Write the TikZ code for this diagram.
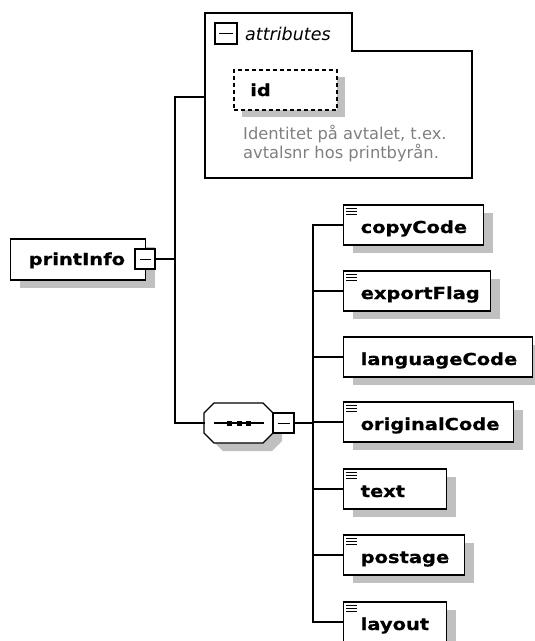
\documentclass[tikz,border=0pt]{standalone}
\usepackage{fontspec}
\usetikzlibrary{shadows,calc}
\newfontfamily\elfont{DejaVu Sans}[FakeStretch=1.18, FakeBold=0.6]
\newfontfamily\plainfont{DejaVu Sans}
\definecolor{shadowgray}{RGB}{192,192,192}
\definecolor{desctext}{RGB}{128,128,128}
\tikzset{
  wire/.style={line width=1.4pt, line cap=rect},
  shadowed/.style={drop shadow={shadow xshift=9pt, shadow yshift=-8pt, opacity=1, fill=shadowgray}},
  elem/.style={draw, line width=1.4pt, fill=white, rectangle, inner sep=0pt,
    text height=28pt, text depth=12pt, align=left, anchor=west,
    font=\elfont\bfseries\fontsize{16.5}{20}\selectfont, shadowed},
  minusbox/.style={draw, line width=1.4pt, fill=white, rectangle, inner sep=0pt},
  icon/.style={line width=1pt},
  desc/.style={anchor=base west, inner sep=0pt, text=desctext, font=\plainfont\fontsize{16.3}{19}\selectfont},
}
\begin{document}
\begin{tikzpicture}[x=1pt,y=-1pt]
\useasboundingbox (0,0) rectangle (535,641);

% ---- root element
\node[elem, text width=135pt, text height=26pt, text depth=15pt] (printInfo) at (10,259.5) {\hspace*{18pt}printInfo};
\node[minusbox, minimum width=20pt, minimum height=20pt] (pminus) at (145,259) {};
\draw[line width=1pt] ($(pminus.center)+(-5.5,0)$) -- ($(pminus.center)+(5.5,0)$);

% ---- attributes group
\coordinate (attrL) at (205,97);
\draw[line width=1.4pt] (205,13) -- (352,13) -- (352,51) -- (472,51) -- (472,178) -- (205,178) -- cycle;
\node[minusbox, minimum width=22pt, minimum height=21pt] (aminus) at (226,33.5) {};
\draw[line width=1pt] ($(aminus.center)+(-7,0)$) -- ($(aminus.center)+(7,0)$);
\node[anchor=base west, inner sep=0pt, font=\plainfont\itshape\fontsize{17.5}{20}\selectfont] (attrlabel) at (245,40) {attributes};

\fill[shadowgray] (242,77) rectangle (345,117);
\node[draw, dashed, dash pattern=on 4pt off 3pt, line width=1.5pt, fill=white, rectangle, inner sep=0pt,
      minimum width=103pt, minimum height=40pt, anchor=north west] (idbox) at (233,69) {};
\node[anchor=base west, inner sep=0pt, font=\elfont\bfseries\fontsize{16.5}{20}\selectfont] (idlabel) at (250,96) {id};
\node[desc] (desc1) at (243,139) {Identitet på avtalet, t.ex.};
\node[desc] (desc2) at (243,158) {avtalsnr hos printbyrån.};

% ---- sequence compositor
\node[rectangle, minimum width=69pt, minimum height=40pt, inner sep=0pt] (seq) at (238.5,423) {};
\fill[shadowgray] (223,411) -- (272,411) -- (282,421) -- (282,441) -- (272,451) -- (223,451) -- (213,441) -- (213,421) -- cycle;
\draw[line width=1.4pt, fill=white] (214,403) -- (263,403) -- (273,413) -- (273,433) -- (263,443) -- (214,443) -- (204,433) -- (204,413) -- cycle;
\draw[line width=1.4pt] (214,423) -- (264,423);
\foreach \sx in {227,236.5,246} { \fill (\sx,420.5) rectangle ++(5,5); }
\node[minusbox, minimum width=21pt, minimum height=20pt] (sminus) at (283.5,423) {};
\draw[line width=1pt] ($(sminus.center)+(-6,0)$) -- ($(sminus.center)+(6,0)$);

% ---- child elements
\node[elem, text width=140pt] (copyCode) at (343,225) {\hspace*{17pt}copyCode};
\node[elem, text width=147pt] (exportFlag) at (343,291) {\hspace*{17pt}exportFlag};
\node[elem, text width=189pt] (languageCode) at (343,357) {\hspace*{17pt}languageCode};
\node[elem, text width=170pt] (originalCode) at (343,422) {\hspace*{17pt}originalCode};
\node[elem, text width=103pt] (text) at (343,489) {\hspace*{17pt}text};
\node[elem, text width=121pt] (postage) at (343,555) {\hspace*{17pt}postage};
\node[elem, text width=103pt] (layout) at (343,622) {\hspace*{17pt}layout};

\foreach \n in {copyCode,exportFlag,originalCode,text,postage,layout} {
  \foreach \dy in {4,7,10} {
    \draw[icon] ($(\n.north west)+(3,\dy)$) -- ++(11,0);
  }
}

% ---- connectors
\coordinate (branch1) at (175,259);
\coordinate (branch2) at (313,423);
\draw[wire] (pminus.east) -- (branch1);
\draw[wire] (attrL) -| (branch1) |- (seq.west);
\draw[wire] (sminus.east) -- (branch2);
\draw[wire] (branch2 |- copyCode.west) -- (branch2 |- layout.west);
\foreach \n in {copyCode,exportFlag,languageCode,originalCode,text,postage,layout} {
  \draw[wire] (branch2 |- \n.west) -- (\n.west);
}
\end{tikzpicture}
\end{document}
